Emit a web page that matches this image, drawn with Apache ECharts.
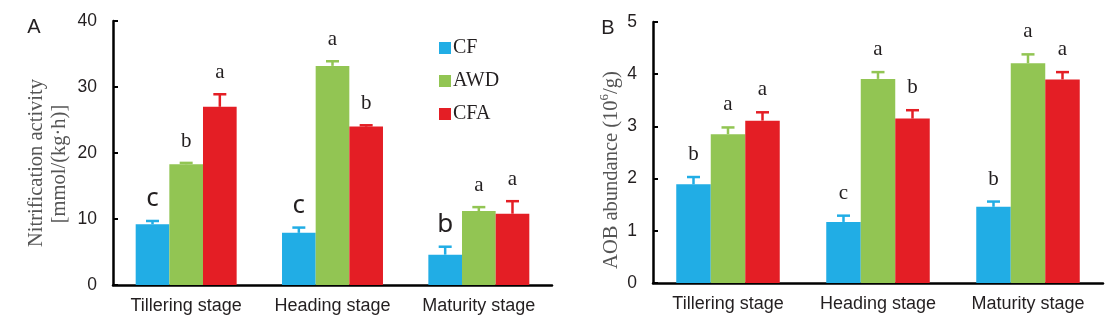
<!DOCTYPE html>
<html>
<head>
<meta charset="utf-8">
<script src="https://cdn.jsdelivr.net/npm/echarts@6/dist/echarts.min.js"></script>
<style>
html,body{margin:0;padding:0;background:#fff;}
#chart{width:1116px;height:326px;}
</style>
</head>
<body>
<div id="chart"></div>
<script>
// ---- data ----
const categories = ['Tillering stage', 'Heading stage', 'Maturity stage'];
const seriesNames = ['CF', 'AWD', 'CFA'];

// Panel A: Nitrification activity [mmol/(kg·h)]
const nitCF = [9.2, 7.9, 4.6];
const nitCFErr = [0.5, 0.8, 1.2];
const nitAWD = [18.3, 33.2, 11.2];
const nitAWDErr = [0.2, 0.7, 0.6];
const nitCFA = [27.0, 24.0, 10.8];
const nitCFAErr = [1.9, 0.2, 1.9];
const nitCFLetters = ['c', 'c', 'b'];
const nitAWDLetters = ['b', 'a', 'a'];
const nitCFALetters = ['a', 'b', 'a'];
const nitTicks = [0, 10, 20, 30, 40];

// Panel B: AOB abundance (10^6/g)
const aobCF = [1.89, 1.17, 1.46];
const aobCFErr = [0.14, 0.12, 0.10];
const aobAWD = [2.85, 3.91, 4.21];
const aobAWDErr = [0.13, 0.13, 0.17];
const aobCFA = [3.11, 3.15, 3.90];
const aobCFAErr = [0.16, 0.16, 0.14];
const aobCFLetters = ['b', 'c', 'b'];
const aobAWDLetters = ['a', 'a', 'a'];
const aobCFALetters = ['a', 'b', 'a'];
const aobTicks = [0, 1, 2, 3, 4, 5];

// ---- styles ----
const colors = ['#21ADE5', '#92C553', '#E41E25'];
const SERIF = '"Liberation Serif", "Times New Roman", serif';
const SANS = '"Liberation Sans", Arial, sans-serif';
const CAT_GAP = 0.31;
const textColor = '#231f20';

const chart = echarts.init(document.getElementById('chart'));

function errSeries(name, axisIdx, sIdx, values, errs, letters, letterFont, lift) {
  return {
    type: 'custom',
    name: name + '-err',
    xAxisIndex: axisIdx,
    yAxisIndex: axisIdx,
    z: 5,
    silent: true,
    data: values.map((v, i) => [i, v, errs[i]]),
    renderItem: function (params, api) {
      const cat = api.value(0), val = api.value(1), err = api.value(2);
      const base = api.coord([cat, val]);
      const top = api.coord([cat, val + err]);
      const band = api.size([1, 0])[0];
      const bw = band * (1 - CAT_GAP) / 3;
      const x = base[0] + (sIdx - 1) * bw;
      const col = colors[sIdx];
      return {
        type: 'group',
        children: [
          { type: 'line', shape: { x1: x, y1: base[1], x2: x, y2: top[1] },
            style: { stroke: col, lineWidth: 2.5 } },
          { type: 'line', shape: { x1: x - 6.5, y1: top[1], x2: x + 6.5, y2: top[1] },
            style: { stroke: col, lineWidth: 2.5 } },
          { type: 'text', x: x, y: top[1] - lift,
            style: { text: letters[params.dataIndex], font: letterFont, fill: textColor,
              align: 'center', verticalAlign: 'bottom' } }
        ]
      };
    }
  };
}

function barSeries(name, axisIdx, sIdx, values) {
  return {
    type: 'bar',
    name: name,
    xAxisIndex: axisIdx,
    yAxisIndex: axisIdx,
    data: values,
    barGap: '0%',
    barCategoryGap: (CAT_GAP * 100) + '%',
    itemStyle: { color: colors[sIdx] },
    z: 2
  };
}

function xAxisCfg(gridIndex) {
  return {
    type: 'category', gridIndex: gridIndex, data: categories,
    axisLine: { lineStyle: { color: '#000', width: 2.5 } },
    axisTick: { inside: true, length: 5, lineStyle: { color: '#000', width: 2 } },
    axisLabel: { interval: 0, hideOverlap: false, fontFamily: SANS, fontSize: 18, color: textColor, margin: 12 },
    splitLine: { show: false }
  };
}

function yAxisCfg(gridIndex, ticks) {
  const interval = ticks[1] - ticks[0];
  return {
    type: 'value', gridIndex: gridIndex,
    min: ticks[0], max: ticks[ticks.length - 1], interval: interval,
    axisLine: { show: true, lineStyle: { color: '#000', width: 2.5 } },
    axisTick: { show: true, inside: true, length: 5, lineStyle: { color: '#000', width: 2 } },
    axisLabel: { fontFamily: SANS, fontSize: 17.5, color: textColor, margin: 16 },
    splitLine: { show: false }
  };
}

const option = {
  backgroundColor: '#fff',
  animation: false,
  grid: [
    { left: 113, right: 564, top: 21, bottom: 41 },
    { left: 653, right: 13, top: 22, bottom: 43 }
  ],
  xAxis: [xAxisCfg(0), xAxisCfg(1)],
  yAxis: [yAxisCfg(0, nitTicks), yAxisCfg(1, aobTicks)],
  legend: {
    data: seriesNames,
    orient: 'vertical',
    left: 434, top: 33,
    icon: 'rect',
    itemWidth: 12, itemHeight: 12, itemGap: 13,
    textStyle: { fontFamily: SERIF, fontSize: 20, color: textColor, padding: [0, 0, 0, -3] }
  },
  graphic: [
    { type: 'text', x: 34, y: 27, style: { text: 'A', font: '20px ' + SANS, fill: textColor, align: 'center', verticalAlign: 'middle' } },
    { type: 'text', x: 608, y: 28, style: { text: 'B', font: '20px ' + SANS, fill: textColor, align: 'center', verticalAlign: 'middle' } },
    { type: 'text', x: 37, y: 163, rotation: Math.PI / 2,
      style: { text: 'Nitrification activity', font: '20.5px ' + SERIF, fill: '#555', align: 'center', verticalAlign: 'middle' } },
    { type: 'text', x: 60, y: 164, rotation: Math.PI / 2,
      style: { text: '[mmol/(kg·h)]', font: '20.5px ' + SERIF, fill: '#555', align: 'center', verticalAlign: 'middle' } },
    { type: 'text', x: 610, y: 170, rotation: Math.PI / 2,
      style: { text: '{n|AOB abundance (10}{s|6}{n|/g)}', fill: '#555', align: 'center', verticalAlign: 'middle',
        rich: {
          n: { fontFamily: SERIF, fontSize: 20.5, lineHeight: 24, fill: '#555', verticalAlign: 'bottom' },
          s: { fontFamily: SERIF, fontSize: 13, lineHeight: 13, fill: '#555', verticalAlign: 'top' }
        } } }
  ],
  series: [
    barSeries('CF', 0, 0, nitCF),
    barSeries('AWD', 0, 1, nitAWD),
    barSeries('CFA', 0, 2, nitCFA),
    barSeries('CF', 1, 0, aobCF),
    barSeries('AWD', 1, 1, aobAWD),
    barSeries('CFA', 1, 2, aobCFA),
    errSeries('CF', 0, 0, nitCF, nitCFErr, nitCFLetters, '26px "Noto Sans", "Open Sans", sans-serif', 9),
    errSeries('AWD', 0, 1, nitAWD, nitAWDErr, nitAWDLetters, '21px ' + SERIF, 11),
    errSeries('CFA', 0, 2, nitCFA, nitCFAErr, nitCFALetters, '21px ' + SERIF, 11),
    errSeries('CF', 1, 0, aobCF, aobCFErr, aobCFLetters, '21px ' + SERIF, 12),
    errSeries('AWD', 1, 1, aobAWD, aobAWDErr, aobAWDLetters, '21px ' + SERIF, 12),
    errSeries('CFA', 1, 2, aobCFA, aobCFAErr, aobCFALetters, '21px ' + SERIF, 12)
  ]
};
chart.setOption(option);
</script>
</body>
</html>
